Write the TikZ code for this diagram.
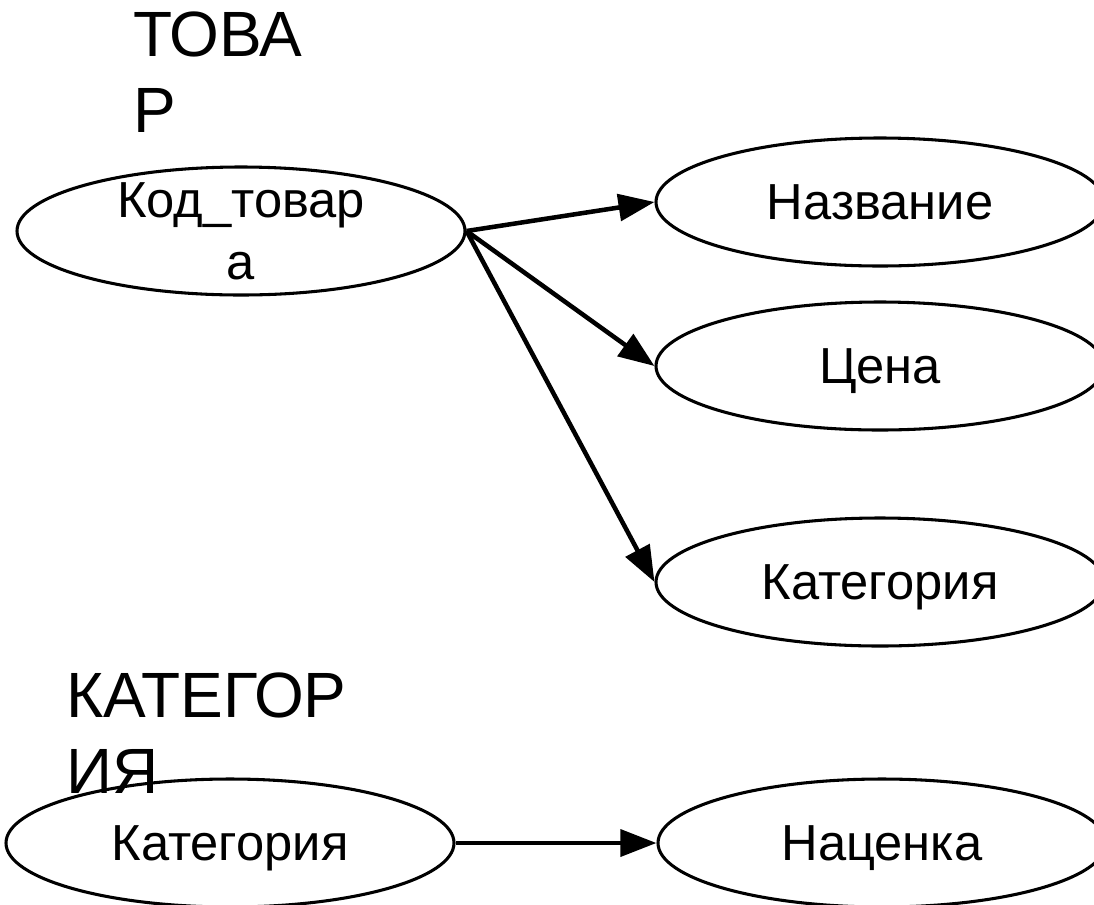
\documentclass[tikz,border=0pt]{standalone}
\usepackage{fontspec}
\setmainfont{Liberation Sans}
\usetikzlibrary{arrows.meta,shapes.geometric}

\tikzset{
  attr/.style={ellipse, draw, line width=2.3pt, minimum width=336pt, minimum height=96pt,
    inner sep=0pt, text depth=0pt, align=center, font=\fontsize{38}{46}\selectfont},
  title/.style={anchor=north west, inner sep=0pt, align=left, font=\fontsize{48}{57}\selectfont},
  fd/.style={line width=3.4pt, -{Triangle[length=27pt,width=20pt]}}
}

\begin{document}
\begin{tikzpicture}[x=0.75pt,y=0.75pt,yscale=-1,xscale=1]
\useasboundingbox (0,0) rectangle (1094,904);

% Text Node
\node[title] (tovar) at (133,12) {ТОВА\\Р};
% Text Node
\node[title] (kateg) at (66,673) {КАТЕГОР\\ИЯ};

%Shape: Ellipse
\node[attr, inner ysep=-15pt] (kod) at (241,231) {Код\_товар\\а};
%Shape: Ellipse
\node[attr] (nazv) at (880,202) {Название};
%Shape: Ellipse
\node[attr] (cena) at (880,366) {Цена};
%Shape: Ellipse
\node[attr] (kat) at (880,582) {Категория};
%Shape: Ellipse
\node[attr] (kat2) at (230,843) {Категория};
%Shape: Ellipse
\node[attr] (nacenka) at (882,843) {Наценка};

%Straight Lines
\draw[fd] (kod.east) -- (nazv.west);
\draw[fd] (kod.east) -- (cena.west);
\draw[fd] (kod.east) -- (kat.west);
\draw[fd] (kat2.east) -- (nacenka.west);

\end{tikzpicture}
\end{document}
